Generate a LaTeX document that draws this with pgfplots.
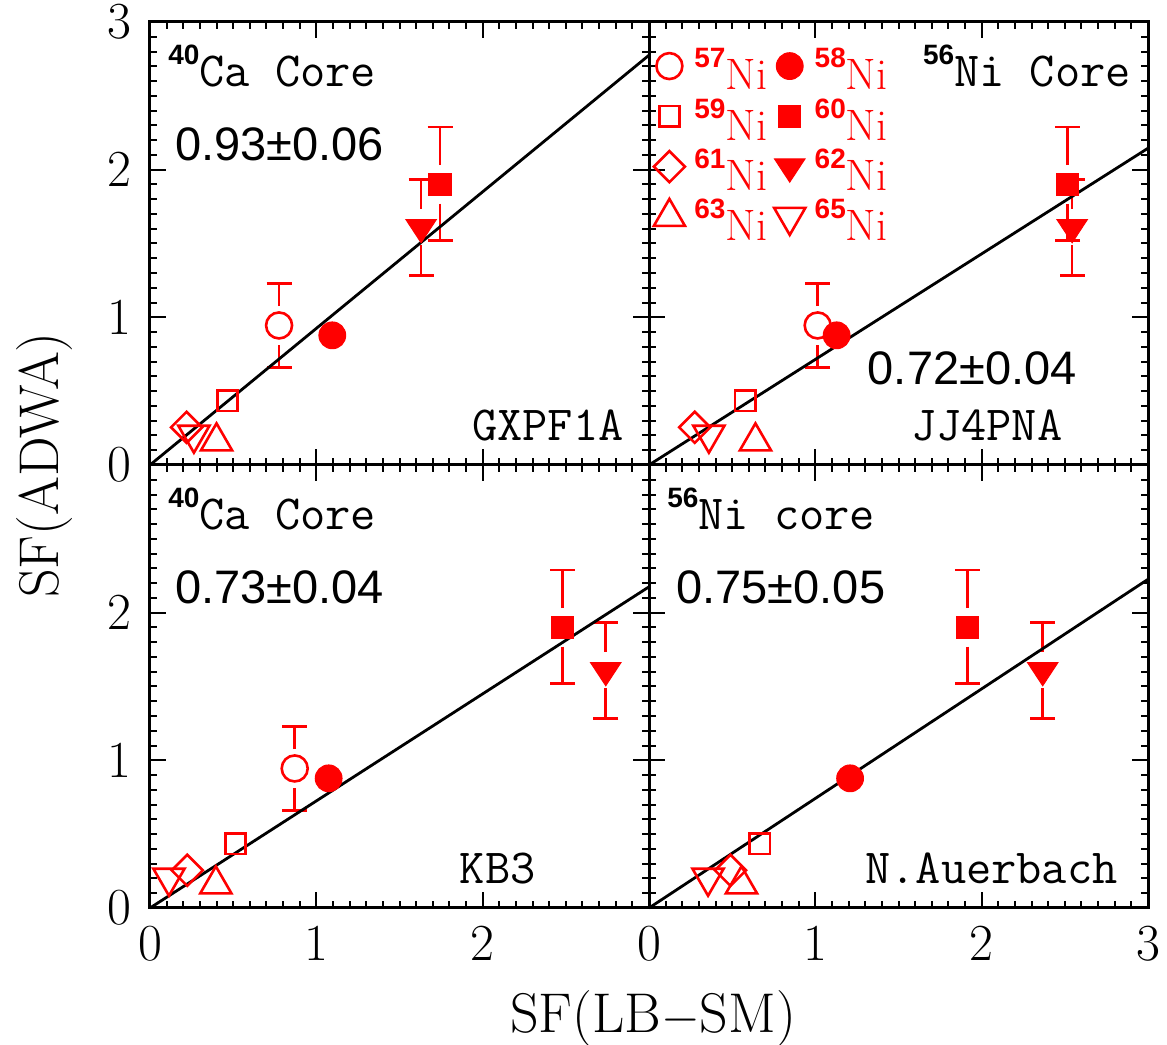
\documentclass[border=0pt]{standalone}
\usepackage{fontspec}
\usepackage{pgfplots}
\pgfplotsset{compat=1.18}
\usepgfplotslibrary{groupplots}
\newfontfamily\numfont{Liberation Sans}
\newcommand\iso[1]{\raisebox{11pt}{\fontsize{14}{14}\selectfont\numfont\bfseries #1}}
\newcommand\corefont{\fontsize{24.5}{25}\selectfont\ttfamily}
\newcommand\fitfont{\fontsize{23.5}{24}\selectfont\numfont}
\pgfplotsset{
  panel/.style={scale only axis, width=249.5pt, height=221.5pt,
    xmin=0, xmax=3, ymin=0, ymax=3, xtick={0,1,2,3}, ytick={0,1,2,3},
    minor tick num=9, tick align=inside, major tick length=8pt, minor tick length=3.5pt,
    every tick/.style={black, line width=1pt}, axis line style={line width=1.5pt},
    tick label style={font=\fontsize{26}{26}\selectfont},
    xticklabel style={yshift=-5.5pt}, yticklabel style={xshift=-6pt},
    xticklabels={}, yticklabels={}, clip=false},
  i57/.style={red, only marks, mark=o, mark size=6.5pt, mark options={line width=1.3pt}},
  i58/.style={red, only marks, mark=*, mark size=6.7pt, mark options={line width=0.5pt}},
  i59/.style={red, only marks, mark=square, mark size=5.1pt, mark options={line width=1.3pt}},
  i60/.style={red, only marks, mark=square*, mark size=5.6pt, mark options={line width=0.5pt}},
  i61/.style={red, only marks, mark=square, mark size=5.5pt, mark options={line width=1.3pt, rotate=45}},
  i62/.style={red, only marks, mark=triangle*, mark size=8.8pt, mark options={line width=0.5pt, rotate=180, yscale=0.88}},
  i63/.style={red, only marks, mark=triangle, mark size=9pt, mark options={line width=1.3pt}},
  i65/.style={red, only marks, mark=triangle, mark size=9pt, mark options={line width=1.3pt, rotate=180}},
  ebup/.style={red, mark=none, forget plot, error bars/.cd, y dir=plus, y explicit,
    error bar style={line width=1.3pt}, error mark options={rotate=90, line width=1.3pt, mark size=6.25pt}},
  ebdn/.style={red, mark=none, forget plot, error bars/.cd, y dir=minus, y explicit,
    error bar style={line width=1.3pt}, error mark options={rotate=90, line width=1.3pt, mark size=6.25pt}},
  fitline/.style={black, line width=1.4pt, mark=none, forget plot},
}
\begin{document}
\begin{tikzpicture}
\begin{groupplot}[group style={group size=2 by 2, horizontal sep=0pt, vertical sep=0pt}, panel]
% ---------- top left: GXPF1A
\nextgroupplot[yticklabels={0,1,2,3}]
\addplot[ebup] coordinates {(0.776,1.075) +- (0,0.155)};
\addplot[ebdn] coordinates {(0.776,0.81) +- (0,0.15)};
\addplot[ebup] coordinates {(1.744,2.03) +- (0,0.26)};
\addplot[ebdn] coordinates {(1.744,1.77) +- (0,0.25)};
\addplot[ebup] coordinates {(1.63,1.735) +- (0,0.20)};
\addplot[ebdn] coordinates {(1.63,1.49) +- (0,0.205)};
\addplot[i57] coordinates {(0.776,0.945)};
\addplot[i58] coordinates {(1.096,0.878)};
\addplot[i59] coordinates {(0.466,0.435)};
\addplot[i60] coordinates {(1.744,1.90)};
\addplot[i61] coordinates {(0.22,0.255)};
\addplot[i62] coordinates {(1.63,1.61)};
\addplot[i63] coordinates {(0.40,0.16)};
\addplot[i65] coordinates {(0.264,0.205)};
\addplot[fitline] coordinates {(0,0) (3,2.775)};
\node[anchor=base west, inner sep=0pt, font=\corefont] at (axis cs:0.108,2.566) {\iso{40}Ca Core};
\node[anchor=base west, inner sep=0pt, font=\fitfont] at (axis cs:0.15,2.065) {0.93±0.06};
\node[anchor=base east, inner sep=0pt, font=\corefont] at (axis cs:2.85,0.169) {GXPF1A};
% ---------- top right: JJ4PNA
\nextgroupplot[legend columns=2, legend cell align=left,
  legend image code/.code={\path[draw=none,fill=none] (0pt,0pt) rectangle (14pt,21pt); \draw[#1, only marks, overlay] plot coordinates {(7pt,2.3pt)};},
  legend style={at={(rel axis cs:0,1)}, anchor=north west, xshift=3pt, yshift=-3.15pt,
    draw=none, fill=none, inner sep=0pt, font=\fontsize{22}{22}\selectfont, text=red,
    row sep=-7pt, column sep=5.5pt, nodes={inner sep=0pt},
    /tikz/every even column/.append style={column sep=4.35pt}}]
\addplot[ebup] coordinates {(1.014,1.075) +- (0,0.155)};
\addplot[ebdn] coordinates {(1.014,0.81) +- (0,0.15)};
\addplot[ebup] coordinates {(2.516,2.03) +- (0,0.26)};
\addplot[ebdn] coordinates {(2.516,1.77) +- (0,0.25)};
\addplot[ebup] coordinates {(2.544,1.735) +- (0,0.20)};
\addplot[ebdn] coordinates {(2.544,1.49) +- (0,0.205)};
\addplot[i57] coordinates {(1.014,0.945)};
\addlegendentry{\iso{57}Ni}
\addplot[i58] coordinates {(1.128,0.878)};
\addlegendentry{\iso{58}Ni}
\addplot[i59] coordinates {(0.578,0.435)};
\addlegendentry{\iso{59}Ni}
\addplot[i60] coordinates {(2.516,1.90)};
\addlegendentry{\iso{60}Ni}
\addplot[i61] coordinates {(0.275,0.255)};
\addlegendentry{\iso{61}Ni}
\addplot[i62] coordinates {(2.544,1.61)};
\addlegendentry{\iso{62}Ni}
\addplot[i63] coordinates {(0.64,0.16)};
\addlegendentry{\iso{63}Ni}
\addplot[i65] coordinates {(0.36,0.205)};
\addlegendentry{\iso{65}Ni}
\addplot[fitline] coordinates {(0,0) (3,2.145)};
\node[anchor=base west, inner sep=0pt, font=\corefont] at (axis cs:1.645,2.566) {\iso{56}Ni Core};
\node[anchor=base west, inner sep=0pt, font=\fitfont] at (axis cs:1.313,0.548) {0.72±0.04};
\node[anchor=base east, inner sep=0pt, font=\corefont] at (axis cs:2.488,0.169) {JJ4PNA};
% ---------- bottom left: KB3
\nextgroupplot[yticklabels={0,1,2,{}}, xticklabels={0,1,2,{}}]
\addplot[ebup] coordinates {(0.87,1.075) +- (0,0.155)};
\addplot[ebdn] coordinates {(0.87,0.81) +- (0,0.15)};
\addplot[ebup] coordinates {(2.48,2.03) +- (0,0.26)};
\addplot[ebdn] coordinates {(2.48,1.77) +- (0,0.25)};
\addplot[ebup] coordinates {(2.74,1.735) +- (0,0.20)};
\addplot[ebdn] coordinates {(2.74,1.49) +- (0,0.205)};
\addplot[i57] coordinates {(0.87,0.945)};
\addplot[i58] coordinates {(1.074,0.878)};
\addplot[i59] coordinates {(0.514,0.435)};
\addplot[i60] coordinates {(2.48,1.90)};
\addplot[i61] coordinates {(0.224,0.255)};
\addplot[i62] coordinates {(2.74,1.61)};
\addplot[i63] coordinates {(0.396,0.16)};
\addplot[i65] coordinates {(0.114,0.205)};
\addplot[fitline] coordinates {(0,0) (3,2.175)};
\node[anchor=base west, inner sep=0pt, font=\corefont] at (axis cs:0.108,2.566) {\iso{40}Ca Core};
\node[anchor=base west, inner sep=0pt, font=\fitfont] at (axis cs:0.15,2.065) {0.73±0.04};
\node[anchor=base east, inner sep=0pt, font=\corefont] at (axis cs:2.32,0.169) {KB3};
% ---------- bottom right: N.Auerbach
\nextgroupplot[xticklabels={0,1,2,3}]
\addplot[ebup] coordinates {(1.914,2.03) +- (0,0.26)};
\addplot[ebdn] coordinates {(1.914,1.77) +- (0,0.25)};
\addplot[ebup] coordinates {(2.367,1.735) +- (0,0.20)};
\addplot[ebdn] coordinates {(2.367,1.49) +- (0,0.205)};
\addplot[i58] coordinates {(1.209,0.878)};
\addplot[i59] coordinates {(0.667,0.435)};
\addplot[i60] coordinates {(1.914,1.90)};
\addplot[i61] coordinates {(0.49,0.255)};
\addplot[i62] coordinates {(2.367,1.61)};
\addplot[i63] coordinates {(0.556,0.16)};
\addplot[i65] coordinates {(0.355,0.205)};
\addplot[fitline] coordinates {(0,0) (3,2.226)};
\node[anchor=base west, inner sep=0pt, font=\corefont] at (axis cs:0.108,2.566) {\iso{56}Ni core};
\node[anchor=base west, inner sep=0pt, font=\fitfont] at (axis cs:0.163,2.065) {0.75±0.05};
\node[anchor=base east, inner sep=0pt, font=\corefont] at (axis cs:2.82,0.169) {N.Auerbach};
\end{groupplot}
\node[rotate=90, font=\fontsize{28}{28}\selectfont] at ([xshift=-52.5pt]group c1r1.south west) {SF(ADWA)};
\node[anchor=base, font=\fontsize{28}{28}\selectfont] at ([xshift=2pt, yshift=-62.5pt]group c1r2.south east) {SF(LB$-$SM)};
\pgfresetboundingbox
\path ([xshift=-75pt,yshift=11pt]group c1r1.north west) rectangle ([xshift=9.5pt,yshift=-68.5pt]group c2r2.south east);
\end{tikzpicture}
\end{document}
